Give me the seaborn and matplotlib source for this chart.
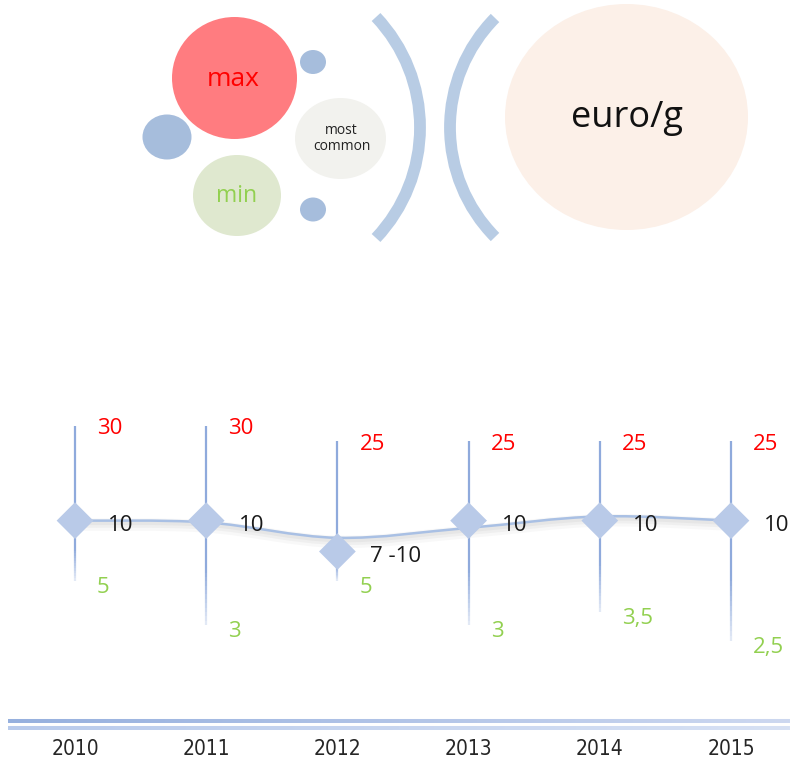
import numpy as np
import pandas as pd
import matplotlib
matplotlib.use("Agg")
import matplotlib.pyplot as plt
import seaborn as sns
from matplotlib.patches import Ellipse, Arc, PathPatch
from matplotlib.path import Path
from matplotlib.collections import LineCollection
from matplotlib.transforms import offset_copy
from matplotlib import font_manager

years = ["2010", "2011", "2012", "2013", "2014", "2015"]
price_max = [30, 30, 25, 25, 25, 25]
price_min = [5, 3, 5, 3, 3.5, 2.5]
price_common = [10, 10, 7, 10, 10, 10]
common_labels = ["10", "10", "7 -10", "10", "10", "10"]
min_labels = ["5", "3", "5", "3", "3,5", "2,5"]
max_labels = ["30", "30", "25", "25", "25", "25"]
trend = [10, 9.8, 8.2, 9.2, 10.5, 10]

sns.set_theme(style="white")
plt.rcParams["font.family"] = ["Open Sans", "DejaVu Sans"]

# narrow face for the year labels if one is installed
try:
    font_manager.findfont(font_manager.FontProperties(family="Liberation Sans Narrow"),
                          fallback_to_default=False)
    year_font = dict(family="Liberation Sans Narrow", fontsize=15)
except Exception:
    year_font = dict(family="DejaVu Sans", fontstretch="condensed", fontsize=15)

W, H = 790, 769
fig = plt.figure(figsize=(W / 100, H / 100), dpi=100)

# ---- key at the top (pixel coordinates) ----
top = fig.add_axes([0, (H - 260) / H, 1, 260 / H])
top.set_xlim(0, W)
top.set_ylim(260, 0)
top.axis("off")

blue = "#a6bddc"
for (cx, cy, w, h, col) in [
    (167, 137, 49, 45, blue),
    (234.5, 78, 125, 122, "#ff7c80"),
    (313, 62, 26, 24, blue),
    (340.5, 138.5, 91, 81, "#f2f2ee"),
    (237, 195.5, 88, 81, "#dfe8cf"),
    (313, 209.5, 26, 24, blue),
    (626.5, 117, 243, 226, "#fcf0e8"),
]:
    top.add_patch(Ellipse((cx, cy), w, h, facecolor=col, edgecolor="none"))

top.text(233, 79, "max", color="#ff0000", fontsize=19, ha="center", va="center")
top.text(237, 196, "min", color="#92d050", fontsize=16.5, ha="center", va="center")
top.text(341, 131, "most", color="#222222", fontsize=10, ha="center", va="center")
top.text(342, 147, "common", color="#222222", fontsize=10, ha="center", va="center")
top.text(627, 118, "euro/g", color="#111111", fontsize=26, ha="center", va="center")

arc_col = "#b8cce4"
top.add_patch(Arc((259.2, 127.5), 2 * 160.8, 2 * 160.8, theta1=-43.4, theta2=43.4,
                  color=arc_col, lw=8.5, capstyle="butt"))
top.add_patch(Arc((605.7, 127.5), 2 * 155.7, 2 * 155.7, theta1=135.3, theta2=224.7,
                  color=arc_col, lw=8.5, capstyle="butt"))

# ---- main chart ----
ax = fig.add_axes([0, (H - 720) / H, 1, (720 - 400.6) / H])
ax.set_yscale("log")
ax.set_ylim(1, 40)
ax.set_xlim(-0.5716, 5.4497)

pos = np.arange(len(years))
df = pd.DataFrame({"x": pos, "year": years, "max": price_max, "min": price_min,
                   "common": price_common})

line_col = "#8faadc"
# upper whisker: common -> max
ax.vlines(df["x"], df["common"], df["max"], color=line_col, lw=1.6, zorder=2)
# lower whisker fading towards the min
segs, alphas = [], []
for x0, c, m in zip(df["x"], df["common"], df["min"]):
    t = np.linspace(0, 1, 25)
    ly = np.log10(c) + (np.log10(m) - np.log10(c)) * t
    yy = 10 ** ly
    for i in range(len(t) - 1):
        segs.append([(x0, yy[i]), (x0, yy[i + 1])])
        alphas.append(1.0 - 0.8 * max(0, (t[i] - 0.45) / 0.55))
rgb = matplotlib.colors.to_rgb(line_col)
lc = LineCollection(segs, colors=[(*rgb, a) for a in alphas], lw=1.6, zorder=2)
ax.add_collection(lc)

# smoothed trend line (Catmull-Rom bezier in log space)
ly = np.log10(trend)
verts = [(pos[0], trend[0])]
codes = [Path.MOVETO]
n = len(pos)
for i in range(n - 1):
    p0 = (pos[max(i - 1, 0)], ly[max(i - 1, 0)])
    p1 = (pos[i], ly[i])
    p2 = (pos[i + 1], ly[i + 1])
    p3 = (pos[min(i + 2, n - 1)], ly[min(i + 2, n - 1)])
    c1 = (p1[0] + (p2[0] - p0[0]) / 6, p1[1] + (p2[1] - p0[1]) / 6)
    c2 = (p2[0] - (p3[0] - p1[0]) / 6, p2[1] - (p3[1] - p1[1]) / 6)
    for p in (c1, c2, p2):
        verts.append((p[0], 10 ** p[1]))
        codes.append(Path.CURVE4)
path = Path(verts, codes)
for dy, lw, a in [(-4, 9, 0.05), (-3, 6, 0.07), (-2, 3.5, 0.08)]:
    ax.add_patch(PathPatch(path, facecolor="none", edgecolor="#808080", lw=lw, alpha=a,
                           transform=offset_copy(ax.transData, fig=fig, y=dy, units="dots"),
                           zorder=3))
ax.add_patch(PathPatch(path, facecolor="none", edgecolor="#a9c0e4", lw=1.8, zorder=4))

sns.scatterplot(data=df, x="x", y="common", marker="D", s=350, color="#b9cae8",
                edgecolor="none", linewidth=0, ax=ax, zorder=5, legend=False)

for x0, mx, mn, cm, lmx, lmn, lcm in zip(pos, price_max, price_min, price_common,
                                          max_labels, min_labels, common_labels):
    ax.text(x0, mx, lmx, color="#ff0000", fontsize=16, ha="left", va="center",
            transform=offset_copy(ax.transData, fig=fig, x=22, y=-3, units="dots"))
    ax.text(x0, mn, lmn, color="#92d050", fontsize=16, ha="left", va="center",
            transform=offset_copy(ax.transData, fig=fig, x=22, y=-7, units="dots"))
    ax.text(x0, cm, lcm, color="#1a1a1a", fontsize=16, ha="left", va="center",
            transform=offset_copy(ax.transData, fig=fig, x=33, y=-5, units="dots"),
            zorder=6)

ax.set_xticks(pos)
ax.set_xticklabels(years, color="#262626", **year_font)
ax.tick_params(axis="x", length=0, pad=14)
ax.set_yticks([])
ax.minorticks_off()
ax.set_xlabel("")
ax.set_ylabel("")
for s in ax.spines.values():
    s.set_visible(False)

# double gradient baseline
base = fig.add_axes([8 / W, (H - 731) / H, (W - 8) / W, 14 / H])
base.axis("off")
t = np.linspace(0, 1, 400)
row = np.zeros((14, 400, 3))
left1, right1 = np.array([150, 176, 222]) / 255, np.array([205, 216, 240]) / 255
left2, right2 = np.array([185, 203, 236]) / 255, np.array([215, 225, 244]) / 255
white = np.ones(3)
for r in range(14):
    if 2 <= r < 6:
        row[r] = left1 + (right1 - left1) * t[:, None]
    elif 9 <= r < 13:
        row[r] = left2 + (right2 - left2) * t[:, None]
    else:
        row[r] = white
base.imshow(row, aspect="auto", interpolation="bilinear")

fig.savefig("out.png", dpi=100)
